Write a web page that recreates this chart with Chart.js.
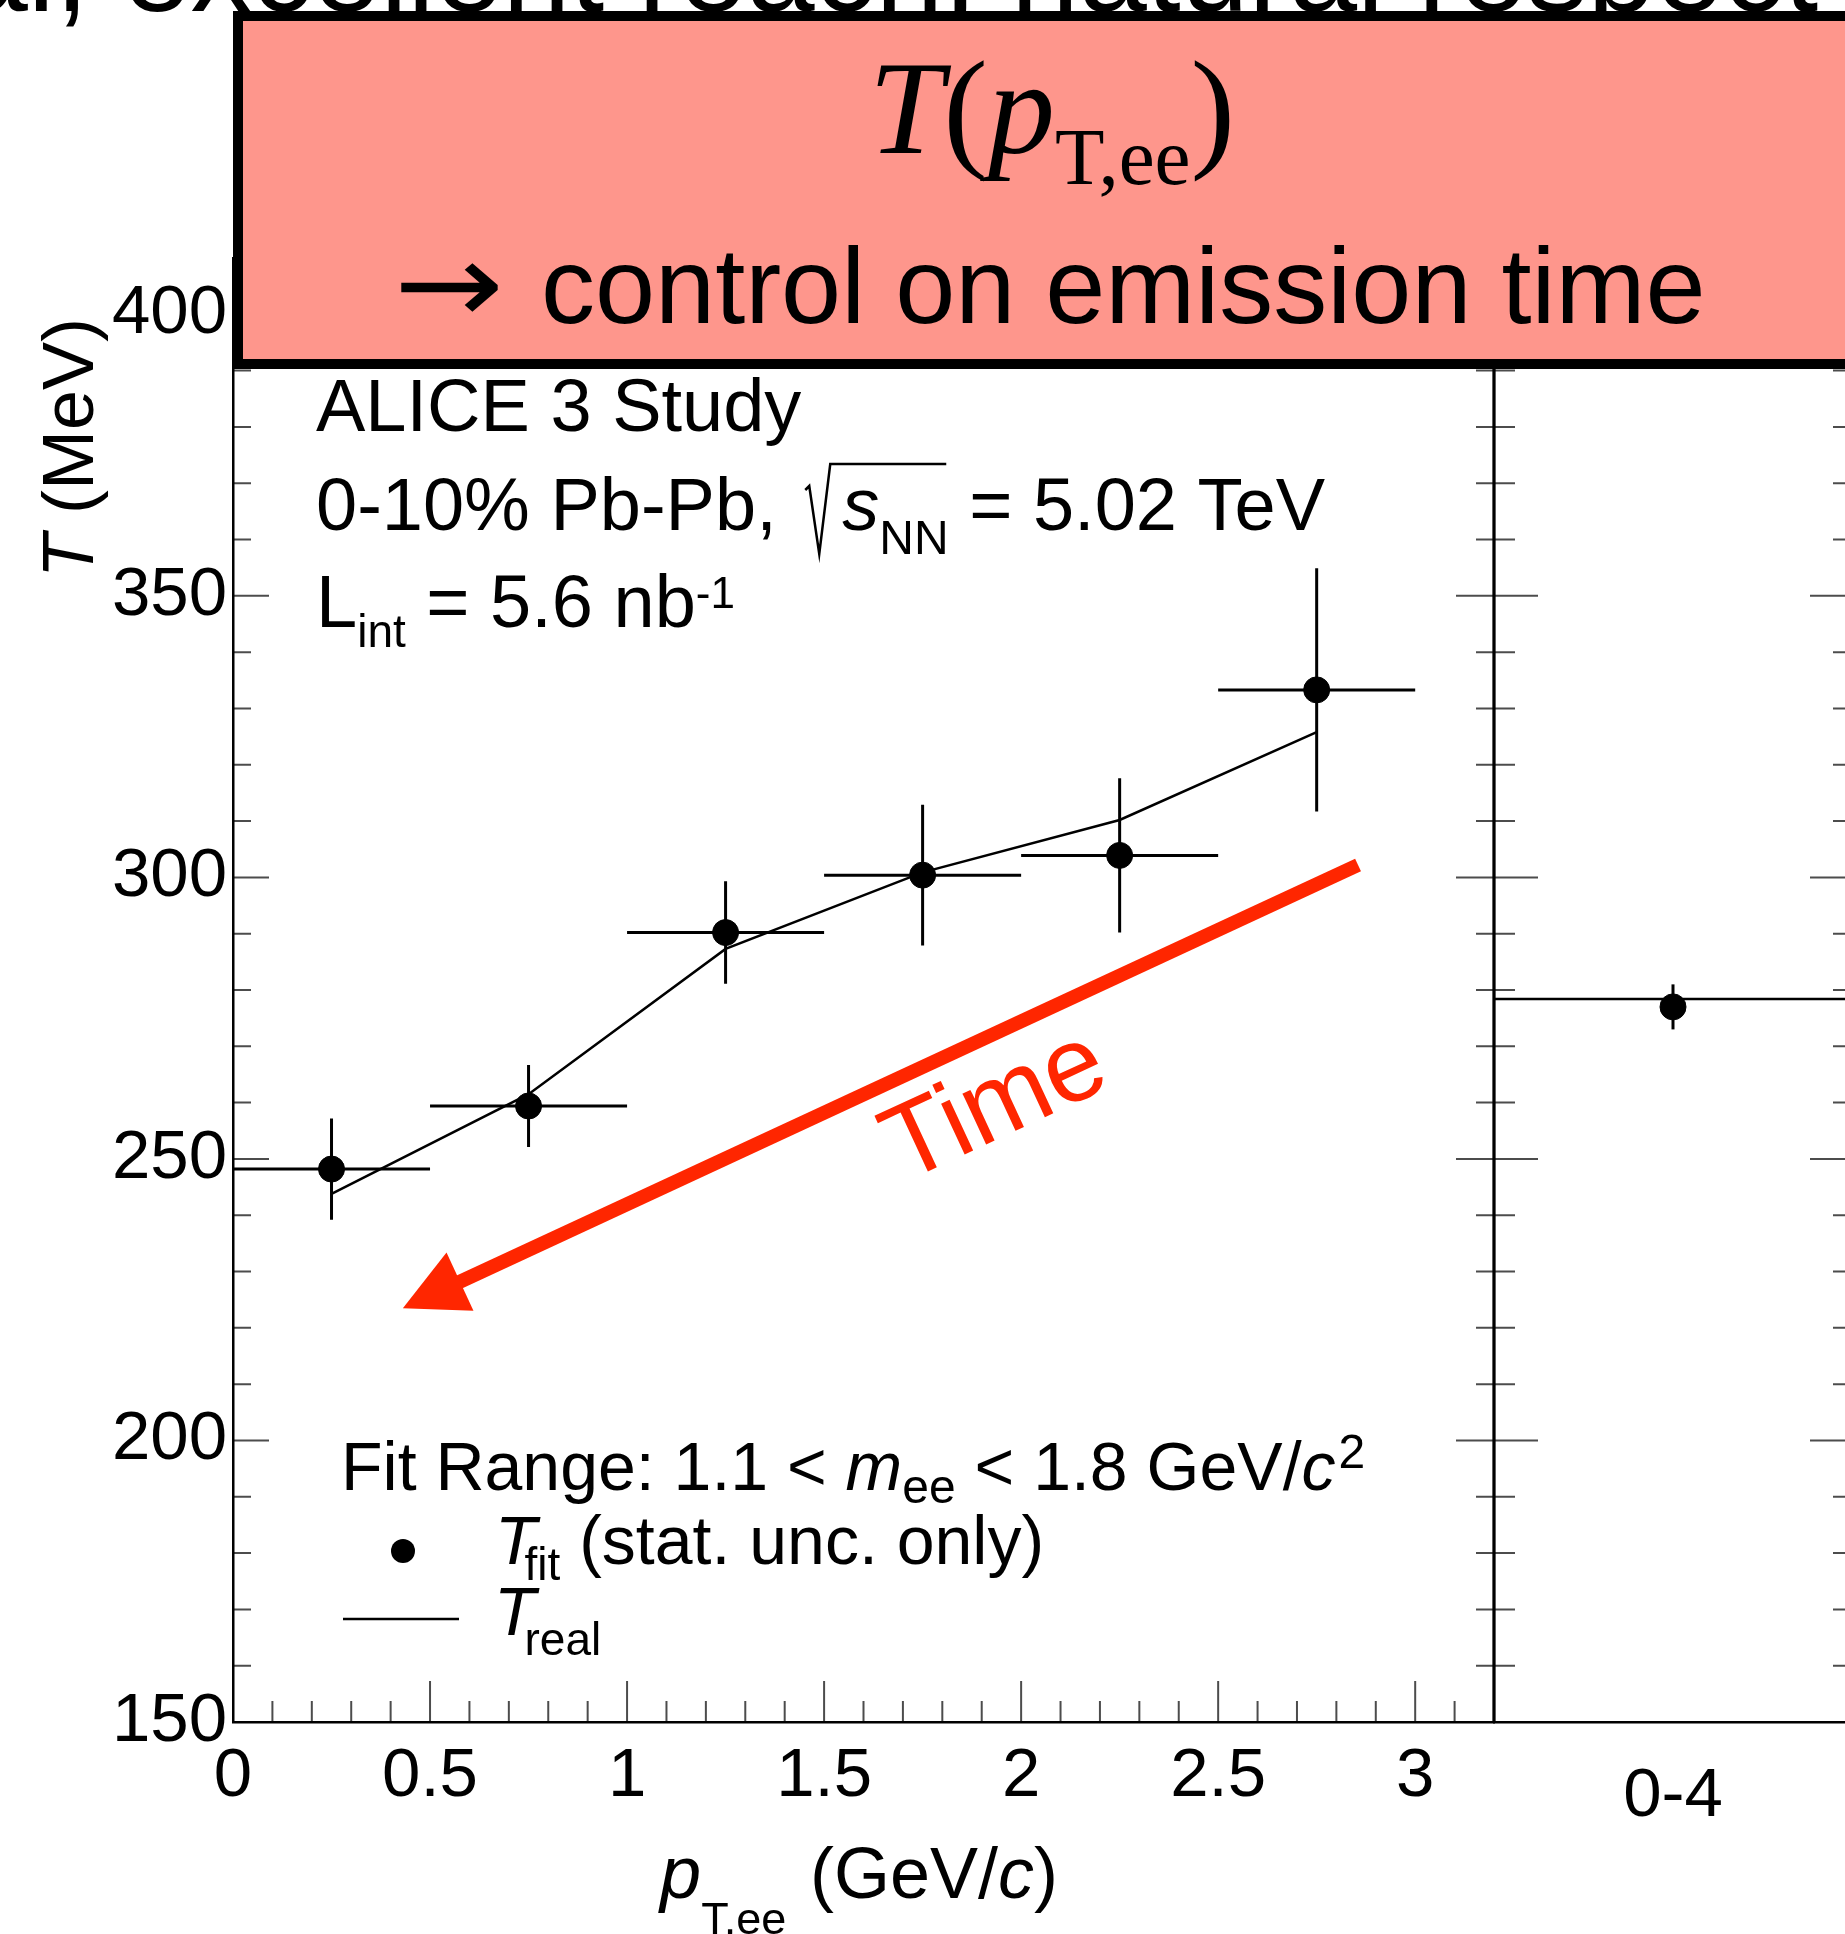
<!DOCTYPE html>
<html>
<head>
<meta charset="utf-8">
<script src="https://cdn.jsdelivr.net/npm/chart.js@4.4.1/dist/chart.umd.min.js"></script>
<style>
  html, body { margin: 0; padding: 0; background: #fff; overflow: hidden; width: 1845px; height: 1934px; }
  #sideWrap { position: absolute; left: 1400px; top: 0; width: 560px; height: 1934px; z-index: 1; }
  #mainWrap { position: absolute; left: 0; top: 0; width: 1845px; height: 1934px; z-index: 2; }
</style>
</head>
<body>
<div id="sideWrap"><canvas id="side" width="560" height="1934"></canvas></div>
<div id="mainWrap"><canvas id="main" width="1845" height="1934"></canvas></div>
<script>
// values
const ptCenters = [0.25, 0.75, 1.25, 1.75, 2.25, 2.75];
const ptHalfWidth = [0.25, 0.25, 0.25, 0.25, 0.25, 0.25];
const tFit = [248.2, 259.4, 290.2, 300.4, 303.9, 333.3];
const tFitErr = [9.0, 7.3, 9.1, 12.5, 13.7, 21.6];
const tReal = [243.8, 261.5, 287.3, 300.9, 310.2, 325.8];

const centClasses = ['0-4'];
const centFit = [277.0];
const centFitErr = [4.0];
const centReal = [278.4];

const xTicks = [0, 0.5, 1, 1.5, 2, 2.5, 3];
const yTicks = [150, 200, 250, 300, 350, 400];
const xRange = [0, 3.2];
const yRange = [150, 410];
const xMinorStep = 0.1;
const yMinorStep = 10;

// "Time" arrow, in data coordinates (start -> tip)
const arrowFrom = [2.855, 302.2];
const arrowTo = [0.431, 223.5];

const sans = "'Liberation Sans', Arial, Helvetica, sans-serif";
const serif = "'Liberation Serif', 'Times New Roman', serif";
const red = '#ff2600';
const pink = '#fe968c';
const tickColor = 'rgba(0,0,0,0.7)';

Chart.defaults.font.family = sans;
Chart.defaults.color = '#000';

function fnt(size, italic, fam) {
  return (italic ? 'italic ' : '') + size + 'px ' + (fam || sans);
}

// draw a row of text pieces (sub/superscripts via dy)
function drawRuns(ctx, x, y, parts, fam) {
  let cx = x;
  for (const p of parts) {
    ctx.font = fnt(p.s, p.i, fam);
    cx += p.dx || 0;
    ctx.fillText(p.t, cx, y + (p.dy || 0));
    cx += ctx.measureText(p.t).width;
  }
  return cx;
}

function runsWidth(ctx, parts, fam) {
  let w = 0;
  for (const p of parts) {
    ctx.font = fnt(p.s, p.i, fam);
    w += (p.dx || 0) + ctx.measureText(p.t).width;
  }
  return w;
}

function yMinorTicks(ctx, yScale, x, dir, major, minor) {
  ctx.beginPath();
  for (let k = 0; yRange[0] + k * yMinorStep < yRange[1]; k++) {
    const v = yRange[0] + k * yMinorStep;
    const y = yScale.getPixelForValue(v);
    const len = yTicks.includes(v) ? major : minor;
    ctx.moveTo(x, y);
    ctx.lineTo(x + dir * len, y);
  }
  ctx.stroke();
}

const mainDecor = {
  id: 'mainDecor',
  beforeDatasetsDraw(chart) {
    const { ctx, scales: { x, y } } = chart;
    ctx.save();
    ctx.strokeStyle = '#000';
    ctx.lineWidth = 3;
    ctx.beginPath();
    ptCenters.forEach((c, i) => {
      const py = y.getPixelForValue(tFit[i]);
      const px = x.getPixelForValue(c);
      ctx.moveTo(x.getPixelForValue(c - ptHalfWidth[i]), py);
      ctx.lineTo(x.getPixelForValue(c + ptHalfWidth[i]), py);
      ctx.moveTo(px, y.getPixelForValue(tFit[i] - tFitErr[i]));
      ctx.lineTo(px, y.getPixelForValue(tFit[i] + tFitErr[i]));
    });
    ctx.stroke();
    ctx.restore();
  },
  afterDraw(chart) {
    const { ctx, chartArea: a, scales: { x, y } } = chart;
    ctx.save();

    // inward ticks
    ctx.strokeStyle = tickColor;
    ctx.lineWidth = 2;
    yMinorTicks(ctx, y, a.left, 1, 36, 18);
    yMinorTicks(ctx, y, a.right, -1, 38, 18);
    ctx.beginPath();
    for (let k = 1; xRange[0] + k * xMinorStep < xRange[1] + 1e-9; k++) {
      const v = Math.round((xRange[0] + k * xMinorStep) * 10) / 10;
      const px = x.getPixelForValue(v);
      const len = xTicks.includes(v) ? 41 : 21;
      ctx.moveTo(px, a.bottom);
      ctx.lineTo(px, a.bottom - len);
    }
    ctx.stroke();

    // right frame of the left panel
    ctx.strokeStyle = '#000';
    ctx.lineWidth = 2.5;
    ctx.beginPath();
    ctx.moveTo(a.right, a.top);
    ctx.lineTo(a.right, a.bottom);
    ctx.stroke();

    ctx.fillStyle = '#000';
    ctx.textBaseline = 'alphabetic';
    ctx.textAlign = 'left';

    // ALICE labels
    drawRuns(ctx, 316, 431, [{ t: 'ALICE 3 Study', s: 74 }]);
    const cx = drawRuns(ctx, 316, 530, [{ t: '0-10% Pb-Pb, ', s: 74 }]);
    ctx.lineWidth = 2.5;
    ctx.beginPath();
    ctx.moveTo(cx + 8, 530 - 40);
    ctx.lineTo(cx + 12, 530 - 44);
    ctx.lineTo(cx + 22, 530 + 24);
    ctx.lineTo(cx + 33, 530 - 66);
    ctx.lineTo(cx + 149, 530 - 66);
    ctx.stroke();
    drawRuns(ctx, cx + 45, 530, [
      { t: 's', s: 74, i: true },
      { t: 'NN', s: 48, dy: 24 },
      { t: ' = 5.02 TeV', s: 74 }
    ]);
    drawRuns(ctx, 316, 627, [
      { t: 'L', s: 74 },
      { t: 'int', s: 46, dy: 20 },
      { t: ' = 5.6 nb', s: 74 },
      { t: '-1', s: 44, dy: -19 }
    ]);

    // fit range + legend
    drawRuns(ctx, 341, 1490, [
      { t: 'Fit Range: 1.1 < ', s: 68 },
      { t: 'm', s: 68, i: true },
      { t: 'ee', s: 48, dy: 13 },
      { t: ' < 1.8 GeV/', s: 68 },
      { t: 'c', s: 68, i: true },
      { t: '2', s: 48, dy: -22, dx: 3 }
    ]);
    ctx.beginPath();
    ctx.arc(403, 1551, 12, 0, Math.PI * 2);
    ctx.fill();
    drawRuns(ctx, 495, 1564, [
      { t: 'T', s: 68, i: true },
      { t: 'fit', s: 46, dy: 16, dx: -12 },
      { t: ' (stat. unc. only)', s: 68 }
    ]);
    ctx.lineWidth = 2.5;
    ctx.beginPath();
    ctx.moveTo(343, 1619);
    ctx.lineTo(459, 1619);
    ctx.stroke();
    drawRuns(ctx, 494, 1635, [
      { t: 'T', s: 68, i: true },
      { t: 'real', s: 46, dy: 20, dx: -11 }
    ]);

    // axis titles
    drawRuns(ctx, 660, 1898, [
      { t: 'p', s: 74, i: true },
      { t: 'T,ee', s: 45, dy: 36, dx: 0 }
    ]);
    drawRuns(ctx, 810, 1898, [
      { t: '(GeV/', s: 72 },
      { t: 'c', s: 72, i: true },
      { t: ')', s: 72 }
    ]);
    ctx.save();
    ctx.translate(93, 578);
    ctx.rotate(-Math.PI / 2);
    drawRuns(ctx, 0, 0, [{ t: 'T', s: 72, i: true }, { t: ' (MeV)', s: 72 }]);
    ctx.restore();

    // red "Time" arrow
    const sx = x.getPixelForValue(arrowFrom[0]), sy = y.getPixelForValue(arrowFrom[1]);
    const tx = x.getPixelForValue(arrowTo[0]), ty = y.getPixelForValue(arrowTo[1]);
    const ang = Math.atan2(ty - sy, tx - sx);
    const ux = Math.cos(ang), uy = Math.sin(ang);
    const headL = 63, headW = 32;
    const bx = tx - ux * headL, by = ty - uy * headL;
    ctx.strokeStyle = red;
    ctx.fillStyle = red;
    ctx.lineWidth = 14;
    ctx.beginPath();
    ctx.moveTo(sx, sy);
    ctx.lineTo(bx + ux * 4, by + uy * 4);
    ctx.stroke();
    ctx.beginPath();
    ctx.moveTo(tx, ty);
    ctx.lineTo(bx - uy * headW, by + ux * headW);
    ctx.lineTo(bx + uy * headW, by - ux * headW);
    ctx.closePath();
    ctx.fill();
    ctx.save();
    ctx.translate(903, 1183);
    ctx.rotate(ang + Math.PI);
    ctx.font = fnt(106);
    ctx.fillText('Time', 0, 0);
    ctx.restore();

    // cropped slide text at the very top
    ctx.fillStyle = '#000';
    ctx.font = fnt(122);
    ctx.fillText('al, excellent reach, natural respect', -40, 11);

    // pink header box
    ctx.fillStyle = pink;
    ctx.fillRect(238, 16, 1700, 348);
    ctx.strokeStyle = '#000';
    ctx.lineWidth = 10;
    ctx.strokeRect(238, 16, 1700, 348);

    ctx.fillStyle = '#000';
    const titleParts = [
      { t: 'T', s: 134, i: true },
      { t: '(', s: 134 },
      { t: 'p', s: 134, i: true },
      { t: 'T,ee', s: 81, dy: 31 },
      { t: ')', s: 134 }
    ];
    const tw = runsWidth(ctx, titleParts, serif);
    drawRuns(ctx, 1052 - tw / 2, 153, titleParts, serif);
    ctx.save();
    ctx.translate(394, 323);
    ctx.scale(1.22, 1.05);
    ctx.font = "108px 'DejaVu Sans', sans-serif";
    ctx.fillText('\u2192', 0, 0);
    ctx.restore();
    ctx.font = fnt(108);
    ctx.fillText('control on emission time', 541, 323);

    ctx.restore();
  }
};

new Chart(document.getElementById('main'), {
  type: 'scatter',
  data: {
    datasets: [
      {
        label: 'T_real',
        type: 'line',
        data: ptCenters.map((c, i) => ({ x: c, y: tReal[i] })),
        borderColor: '#000',
        borderWidth: 2.5,
        pointRadius: 0,
        fill: false,
        tension: 0,
        order: 2
      },
      {
        label: 'T_fit',
        data: ptCenters.map((c, i) => ({ x: c, y: tFit[i] })),
        backgroundColor: '#000',
        borderColor: '#000',
        pointRadius: 13,
        order: 1
      }
    ]
  },
  options: {
    responsive: false,
    animation: false,
    layout: { padding: { left: 0, top: 258, right: 351, bottom: 112 } },
    plugins: { legend: { display: false }, tooltip: { enabled: false } },
    scales: {
      x: {
        type: 'linear',
        min: xRange[0],
        max: xRange[1],
        afterBuildTicks: s => { s.ticks = xTicks.map(v => ({ value: v })); },
        afterFit: s => { s.height = 100; },
        grid: { display: false, drawTicks: false },
        border: { display: true, color: '#000', width: 2.5 },
        ticks: { font: { size: 69 }, color: '#000', padding: 14, maxRotation: 0, autoSkip: false, callback: v => String(v) }
      },
      y: {
        type: 'linear',
        min: yRange[0],
        max: yRange[1],
        afterBuildTicks: s => { s.ticks = yTicks.map(v => ({ value: v })); },
        afterFit: s => { s.width = 233; },
        grid: { display: false, drawTicks: false },
        border: { display: true, color: '#000', width: 2.5 },
        ticks: { font: { size: 69 }, color: '#000', padding: 6, autoSkip: false, callback: v => String(v) }
      }
    }
  },
  plugins: [mainDecor]
});

const sideDecor = {
  id: 'sideDecor',
  beforeDatasetsDraw(chart) {
    const { ctx, chartArea: a, scales: { x, y } } = chart;
    ctx.save();
    ctx.strokeStyle = '#000';
    ctx.lineWidth = 2.5;
    ctx.beginPath();
    const ry = y.getPixelForValue(centReal[0]);
    ctx.moveTo(a.left, ry);
    ctx.lineTo(a.right, ry);
    ctx.stroke();
    ctx.lineWidth = 3;
    ctx.beginPath();
    centClasses.forEach((c, i) => {
      const px = x.getPixelForValue(i);
      ctx.moveTo(px, y.getPixelForValue(centFit[i] - centFitErr[i]));
      ctx.lineTo(px, y.getPixelForValue(centFit[i] + centFitErr[i]));
    });
    ctx.stroke();
    ctx.restore();
  },
  afterDraw(chart) {
    const { ctx, chartArea: a, scales: { y } } = chart;
    ctx.save();
    ctx.strokeStyle = tickColor;
    ctx.lineWidth = 2;
    yMinorTicks(ctx, y, a.left, 1, 44, 21);
    yMinorTicks(ctx, y, a.right, -1, 42, 19);
    ctx.strokeStyle = '#000';
    ctx.lineWidth = 3;
    ctx.beginPath();
    ctx.moveTo(a.left, a.top);
    ctx.lineTo(a.left, a.bottom);
    ctx.moveTo(a.right, a.top);
    ctx.lineTo(a.right, a.bottom);
    ctx.stroke();
    ctx.restore();
  }
};

new Chart(document.getElementById('side'), {
  type: 'line',
  data: {
    labels: centClasses,
    datasets: [{
      label: 'T_fit',
      data: centFit,
      showLine: false,
      backgroundColor: '#000',
      borderColor: '#000',
      pointRadius: 13
    }]
  },
  options: {
    responsive: false,
    animation: false,
    layout: { padding: { left: 94, top: 258, right: 108, bottom: 112 } },
    plugins: { legend: { display: false }, tooltip: { enabled: false } },
    scales: {
      x: {
        type: 'category',
        offset: true,
        afterFit: s => { s.height = 100; },
        grid: { display: false, drawTicks: false },
        border: { display: true, color: '#000', width: 2.5 },
        ticks: { font: { size: 69 }, color: '#000', padding: 34, maxRotation: 0 }
      },
      y: {
        display: false,
        min: yRange[0],
        max: yRange[1]
      }
    }
  },
  plugins: [sideDecor]
});
</script>
</body>
</html>
